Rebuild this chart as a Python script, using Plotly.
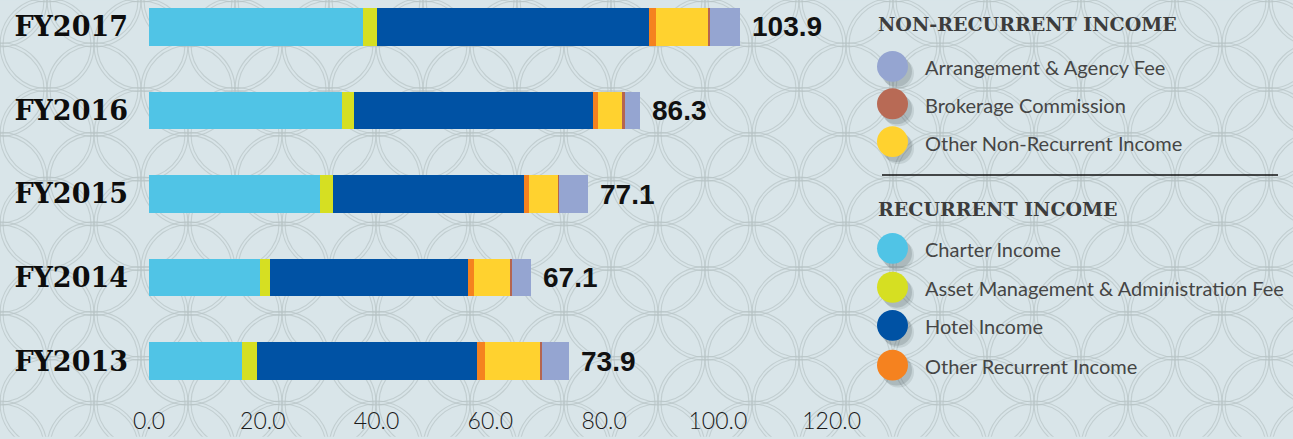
import base64
import plotly.graph_objects as go

# valores (milhoes)
anos = ["FY2013", "FY2014", "FY2015", "FY2016", "FY2017"]
charter = [16.4, 19.5, 30.1, 33.9, 37.6]
asset_mgmt = [2.5, 1.7, 2.3, 2.1, 2.4]
hotel = [38.8, 34.9, 33.6, 42.0, 47.9]
outra_recorrente = [1.4, 1.1, 0.8, 0.9, 1.3]
outra_nao_recorrente = [9.7, 6.4, 5.1, 4.4, 9.2]
corretagem = [0.3, 0.2, 0.2, 0.3, 0.3]
arranjo = [4.8, 3.3, 5.0, 2.7, 5.2]
totais = [73.9, 67.1, 77.1, 86.3, 103.9]
ticks_x = [0, 20, 40, 60, 80, 100, 120]

series = [
    ("Charter Income", charter, "#50c4e6"),
    ("Asset Management & Administration Fee", asset_mgmt, "#d6df22"),
    ("Hotel Income", hotel, "#0052a4"),
    ("Other Recurrent Income", outra_recorrente, "#f5821f"),
    ("Other Non-Recurrent Income", outra_nao_recorrente, "#ffd22f"),
    ("Brokerage Commission", corretagem, "#b5654f"),
    ("Arrangement & Agency Fee", arranjo, "#95a5d1"),
]

grupos = [
    ("NON-RECURRENT INCOME", [
        ("Arrangement & Agency Fee", "#95a5d1"),
        ("Brokerage Commission", "#b86a55"),
        ("Other Non-Recurrent Income", "#ffd22f"),
    ]),
    ("RECURRENT INCOME", [
        ("Charter Income", "#50c4e6"),
        ("Asset Management & Administration Fee", "#d6df22"),
        ("Hotel Income", "#0052a4"),
        ("Other Recurrent Income", "#f5821f"),
    ]),
]

W, H = 1293, 439
L, R, T, B = 149, 843, 5, 395
X_MAX = 122
Y_RANGE = [-0.381, 4.262]


def px(x):
    return (x - L) / (R - L)


def py(y):
    return (B - y) / (B - T)


fig = go.Figure()
for nome, valores, cor in series:
    fig.add_trace(go.Bar(
        y=anos, x=valores, name=nome, orientation="h",
        marker=dict(color=cor, line=dict(width=0)),
        showlegend=False,
    ))

# totais a direita das barras
for ano, total in zip(anos, totais):
    fig.add_annotation(
        x=total, y=ano, text=f"{total:.1f}", showarrow=False,
        xanchor="left", yanchor="middle", xshift=10,
        font=dict(family="Liberation Sans", size=28, color="#111111", weight="bold"),
    )

# fundo com padrao de circulos
svg = [f"<svg xmlns='http://www.w3.org/2000/svg' width='{W}' height='{H}'>",
       f"<rect width='{W}' height='{H}' fill='#d9e5e9'/>",
       "<g fill='none' stroke='#b6c1c3' stroke-width='1.1' stroke-opacity='0.65'>"]
passo_x, passo_y, raio = 94, 45, 47
for j in range(-2, H // passo_y + 3):
    for i in range(-2, W // passo_x + 3):
        cx, cy = i * passo_x + (j % 2) * passo_x / 2, j * passo_y
        svg.append(f"<circle cx='{cx}' cy='{cy}' r='{raio}'/>")
        svg.append(f"<circle cx='{cx}' cy='{cy}' r='{raio - 3}'/>")
svg.append("</g></svg>")
fundo = "data:image/svg+xml;base64," + base64.b64encode("".join(svg).encode()).decode()
fig.add_layout_image(
    source=fundo, xref="paper", yref="paper", x=px(0), y=py(0),
    sizex=W / (R - L), sizey=H / (B - T), sizing="stretch",
    xanchor="left", yanchor="top", layer="below",
)

# legenda desenhada a mao
shapes = []
cab_y = [24, 210]
item_y = [[66.7, 104.3, 142.3], [249.7, 288.7, 327, 367]]
for (titulo, itens), yc, ys in zip(grupos, cab_y, item_y):
    fig.add_annotation(
        x=px(876), y=py(yc), xref="paper", yref="paper", text=titulo,
        showarrow=False, xanchor="left", yanchor="middle",
        font=dict(family="DejaVu Serif", size=19, color="#3c3c3c", weight="bold"),
    )
    for (rotulo, cor), y in zip(itens, ys):
        cx, r = 892.5, 15.5
        for dx, dy, op in [(6, 7, 0.12), (4, 5, 0.18)]:
            shapes.append(dict(
                type="circle", xref="paper", yref="paper",
                x0=px(cx - r + dx), x1=px(cx + r + dx), y0=py(y + r + dy), y1=py(y - r + dy),
                fillcolor=f"rgba(60,70,75,{op})", line=dict(width=0), layer="below",
            ))
        shapes.append(dict(
            type="circle", xref="paper", yref="paper",
            x0=px(cx - r), x1=px(cx + r), y0=py(y + r), y1=py(y - r),
            fillcolor=cor, line=dict(width=0),
        ))
        fig.add_annotation(
            x=px(923), y=py(y + 1), xref="paper", yref="paper", text=rotulo,
            showarrow=False, xanchor="left", yanchor="middle",
            font=dict(family="Lato", size=20, color="#454545"),
        )
shapes.append(dict(
    type="line", xref="paper", yref="paper",
    x0=px(882), x1=px(1278), y0=py(176), y1=py(176),
    line=dict(color="#111111", width=1.5),
))

fig.update_layout(
    width=W, height=H,
    margin=dict(l=L, r=W - R, t=T, b=H - B, pad=0),
    paper_bgcolor="#d9e5e9",
    plot_bgcolor="rgba(0,0,0,0)",
    barmode="stack",
    bargap=0.548,
    shapes=shapes,
    xaxis=dict(
        range=[0, X_MAX], tickvals=ticks_x, ticktext=[f"{v:.1f}" for v in ticks_x],
        showgrid=False, zeroline=False, showline=False, ticks="",
        ticklabelstandoff=12,
        tickfont=dict(family="Lato", size=23, color="#1a1a1a", weight=300),
    ),
    yaxis=dict(
        range=Y_RANGE, showgrid=False, zeroline=False, showline=False, ticks="",
        categoryorder="array", categoryarray=anos,
        ticklabelstandoff=20,
        tickfont=dict(family="DejaVu Serif", size=27, color="#0d0d0d", weight="bold"),
    ),
)

fig.write_html(
    "out.html",
    config={"displayModeBar": False},
    post_script="document.body.style.margin='0';document.body.style.overflow='hidden';",
)
